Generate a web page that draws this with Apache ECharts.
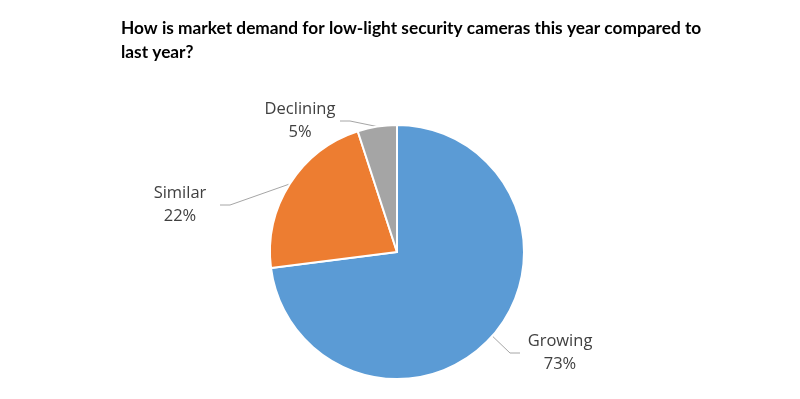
<!DOCTYPE html>
<html lang="en">
<head>
    <meta charset="UTF-8">
    <title>Low-light camera demand</title>
    <style>
        html, body { margin: 0; padding: 0; background: #fff; }
        #main { width: 800px; height: 399px; }
    </style>
    <script src="https://cdn.jsdelivr.net/npm/echarts@6/dist/echarts.min.js"></script>
</head>
<body>
<div id="main"></div>
<script type="text/javascript">
    var categories = ['Growing', 'Similar', 'Declining'];
    var shares = [73, 22, 5];
    var colors = ['#5B9BD5', '#ED7D31', '#A5A5A5'];
    // where each label block sits (centre), like the Excel layout
    var labelSpots = [[560, 353], [180, 205], [300, 121]];

    var data = [];
    for (var i = 0; i < categories.length; i++) {
        data.push({ name: categories[i], value: shares[i], itemStyle: { color: colors[i] } });
    }

    var myChart = echarts.init(document.getElementById('main'));
    var option = {
        backgroundColor: '#fff',
        title: {
            text: 'How is market demand for low-light security cameras this year compared to\nlast year?',
            left: 116,
            top: 11,
            textStyle: {
                fontFamily: 'Lato',
                fontWeight: 'bold',
                fontSize: 17.3,
                lineHeight: 24,
                color: '#000'
            }
        },
        series: [
            {
                type: 'pie',
                center: [397, 252],
                radius: 127,
                startAngle: 90,
                clockwise: true,
                animation: false,
                itemStyle: { borderColor: '#fff', borderWidth: 2 },
                label: {
                    formatter: '{t|{b}}\n{t|{d}%}',
                    rich: {
                        t: {
                            width: 80,
                            align: 'center',
                            fontFamily: 'Open Sans',
                            fontSize: 16.5,
                            lineHeight: 23,
                            color: '#404040'
                        }
                    }
                },
                labelLine: {
                    length: 12,
                    length2: 10,
                    lineStyle: { color: '#A6A6A6', width: 1 }
                },
                labelLayout: function (params) {
                    var p = labelSpots[params.dataIndex];
                    return { x: p[0], y: p[1], align: 'center', verticalAlign: 'middle' };
                },
                data: data
            }
        ]
    };
    myChart.setOption(option);
</script>
</body>
</html>
